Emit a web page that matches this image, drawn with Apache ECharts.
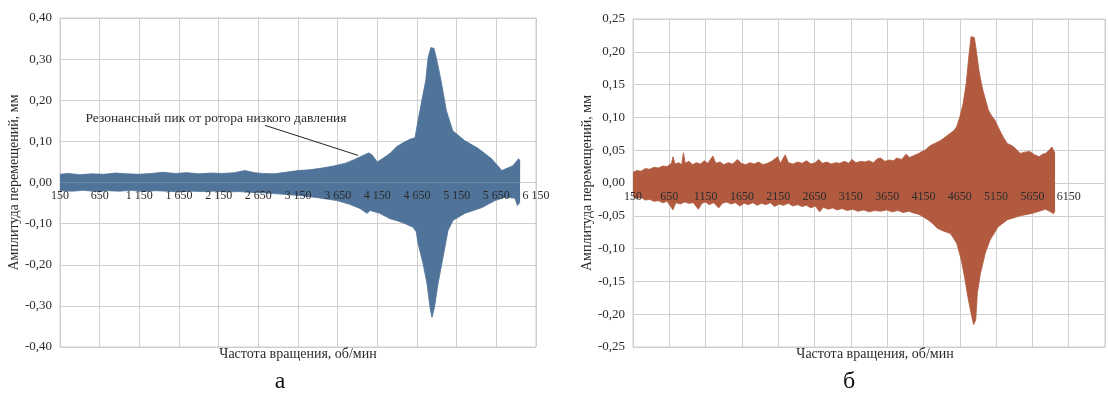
<!DOCTYPE html>
<html><head><meta charset="utf-8">
<script src="https://cdn.jsdelivr.net/npm/echarts@6/dist/echarts.min.js"></script>
<style>html,body{margin:0;padding:0;background:#fff}#c{width:1108px;height:402px}</style>
</head><body><div id="c"></div>
<script>
// ---- data (rpm, amplitude mm) : envelope of the signal ----
const upperA = [[150,0.020],[250,0.022],[400,0.019],[550,0.021],[700,0.020],[850,0.023],[1000,0.021],[1150,0.020],[1300,0.022],[1450,0.025],[1600,0.022],[1750,0.024],[1900,0.021],[2050,0.023],[2200,0.022],[2350,0.024],[2480,0.029],[2600,0.024],[2700,0.022],[2850,0.021],[3000,0.025],[3150,0.029],[3300,0.031],[3450,0.035],[3600,0.040],[3750,0.047],[3850,0.055],[3950,0.064],[4040,0.072],[4080,0.068],[4150,0.050],[4230,0.060],[4310,0.071],[4400,0.088],[4480,0.097],[4560,0.105],[4625,0.109],[4663,0.151],[4710,0.199],[4760,0.248],[4790,0.304],[4825,0.328],[4865,0.326],[4910,0.289],[4960,0.241],[5020,0.175],[5100,0.126],[5250,0.102],[5420,0.083],[5590,0.058],[5720,0.029],[5800,0.036],[5860,0.041],[5930,0.058],[5950,0.052]];
const lowerA = [[150,-0.020],[300,-0.021],[450,-0.019],[600,-0.022],[750,-0.020],[900,-0.021],[1050,-0.019],[1200,-0.022],[1350,-0.020],[1500,-0.021],[1650,-0.023],[1800,-0.021],[1950,-0.022],[2100,-0.021],[2250,-0.023],[2400,-0.022],[2550,-0.024],[2700,-0.025],[2850,-0.027],[3000,-0.029],[3200,-0.032],[3400,-0.037],[3640,-0.044],[3800,-0.053],[3930,-0.063],[4020,-0.075],[4060,-0.068],[4180,-0.075],[4310,-0.088],[4400,-0.093],[4500,-0.100],[4600,-0.109],[4640,-0.120],[4663,-0.148],[4726,-0.197],[4776,-0.246],[4814,-0.304],[4839,-0.328],[4870,-0.304],[4915,-0.246],[4978,-0.182],[5041,-0.117],[5104,-0.092],[5255,-0.075],[5469,-0.061],[5633,-0.044],[5760,-0.036],[5885,-0.038],[5915,-0.056],[5936,-0.051],[5948,-0.045]];
const upperB = [[150,0.016],[200,0.019],[260,0.018],[320,0.022],[380,0.021],[440,0.024],[500,0.023],[560,0.026],[620,0.025],[680,0.030],[700,0.040],[730,0.029],[780,0.031],[820,0.028],[844,0.046],[870,0.030],[920,0.033],[970,0.028],[1020,0.031],[1080,0.029],[1130,0.034],[1180,0.030],[1250,0.041],[1290,0.030],[1350,0.032],[1400,0.028],[1460,0.031],[1520,0.029],[1590,0.036],[1640,0.030],[1700,0.028],[1760,0.031],[1820,0.029],[1880,0.032],[1940,0.028],[2000,0.030],[2060,0.033],[2141,0.040],[2180,0.030],[2246,0.043],[2290,0.031],[2350,0.029],[2420,0.032],[2480,0.030],[2540,0.034],[2600,0.029],[2660,0.031],[2705,0.036],[2760,0.030],[2820,0.032],[2880,0.029],[2940,0.031],[3000,0.030],[3060,0.033],[3124,0.030],[3163,0.036],[3220,0.031],[3290,0.033],[3342,0.032],[3400,0.034],[3460,0.031],[3517,0.037],[3560,0.038],[3620,0.033],[3680,0.035],[3740,0.034],[3779,0.038],[3850,0.036],[3910,0.044],[3960,0.039],[4020,0.042],[4084,0.045],[4130,0.048],[4172,0.050],[4220,0.055],[4259,0.058],[4320,0.061],[4390,0.065],[4450,0.070],[4521,0.076],[4570,0.080],[4608,0.086],[4652,0.101],[4696,0.121],[4739,0.152],[4774,0.192],[4805,0.223],[4849,0.222],[4870,0.208],[4914,0.172],[4950,0.150],[4980,0.137],[5045,0.111],[5090,0.102],[5132,0.096],[5180,0.085],[5220,0.076],[5260,0.068],[5307,0.060],[5350,0.058],[5394,0.055],[5440,0.050],[5482,0.045],[5540,0.047],[5613,0.048],[5680,0.043],[5744,0.040],[5790,0.044],[5831,0.045],[5880,0.050],[5918,0.055],[5940,0.050],[5962,0.045]];
const lowerB = [[150,-0.020],[200,-0.024],[260,-0.022],[320,-0.026],[380,-0.025],[440,-0.028],[500,-0.027],[560,-0.030],[620,-0.028],[700,-0.041],[740,-0.030],[800,-0.032],[860,-0.029],[920,-0.031],[980,-0.030],[1050,-0.040],[1100,-0.031],[1150,-0.029],[1200,-0.033],[1260,-0.030],[1330,-0.038],[1380,-0.031],[1440,-0.029],[1500,-0.032],[1560,-0.030],[1620,-0.035],[1680,-0.031],[1740,-0.033],[1800,-0.030],[1860,-0.034],[1920,-0.031],[1980,-0.033],[2040,-0.030],[2100,-0.036],[2160,-0.032],[2220,-0.034],[2290,-0.031],[2350,-0.035],[2420,-0.033],[2480,-0.036],[2540,-0.034],[2600,-0.038],[2660,-0.035],[2720,-0.044],[2770,-0.037],[2840,-0.040],[2900,-0.038],[2960,-0.041],[3030,-0.039],[3100,-0.042],[3170,-0.040],[3250,-0.043],[3330,-0.041],[3400,-0.044],[3480,-0.042],[3560,-0.043],[3640,-0.041],[3720,-0.044],[3800,-0.042],[3870,-0.045],[3950,-0.043],[4020,-0.046],[4090,-0.048],[4150,-0.052],[4210,-0.056],[4280,-0.062],[4340,-0.069],[4420,-0.073],[4521,-0.077],[4608,-0.092],[4670,-0.117],[4715,-0.143],[4760,-0.173],[4805,-0.198],[4840,-0.216],[4870,-0.209],[4892,-0.168],[4935,-0.138],[5001,-0.107],[5067,-0.087],[5176,-0.067],[5307,-0.056],[5482,-0.050],[5657,-0.046],[5831,-0.040],[5900,-0.044],[5940,-0.047],[5962,-0.042]];

const xLabelsA = ['150','650','1 150','1 650','2 150','2 650','3 150','3 650','4 150','4 650','5 150','5 650','6 150'];
const xLabelsB = ['150','650','1150','1650','2150','2650','3150','3650','4150','4650','5150','5650','6150'];
const yLabelsA = ['-0,40','-0,30','-0,20','-0,10','0,00','0,10','0,20','0,30','0,40'];
const yLabelsB = ['-0,25','-0,20','-0,15','-0,10','-0,05','0,00','0,05','0,10','0,15','0,20','0,25'];
const xTitle = 'Частота вращения, об/мин';
const yTitle = 'Амплитуда перемещений, мм';
const annotation = 'Резонансный пик от ротора низкого давления';
const annotationText = [2116, 0.156];
const annotationArrow = [[2734, 0.139], [3906, 0.066]];
const panelLetters = ['а', 'б'];

// ---- chart ----
const X0 = 150, STEP = 500;
const shift = arr => arr.map(p => [p[0] - X0, p[1]]);
const FONT = '"Liberation Serif", "Times New Roman", serif';
const GRID_C = '#cfcfcf';
const TXT = '#2b2b2b';
const BLUE = '#4f7399', RED = '#b15a3f';

// label axis sits at the bottom of the grid; its labels are lifted up to the zero line
function xAxes(gi, max, labels, lift) {
  return [
    { gridIndex: gi, type: 'value', min: 0, max: max, interval: STEP, position: 'bottom',
      axisLine: { show: false, onZero: false }, axisTick: { show: false }, axisLabel: { show: false },
      splitLine: { show: true, lineStyle: { color: GRID_C, width: 1 } } },
    { gridIndex: gi, type: 'value', min: 0, max: max, interval: STEP, position: 'bottom', z: 10,
      axisLine: { show: false, onZero: false }, axisTick: { show: false }, splitLine: { show: false },
      axisLabel: { show: true, margin: lift, color: TXT, fontFamily: FONT, fontSize: 12,
        showMinLabel: true, showMaxLabel: true,
        formatter: v => labels[Math.round(v / STEP)] || '' } }
  ];
}
function yAxis(gi, min, max, interval, labels, gap) {
  return { gridIndex: gi, type: 'value', min: min, max: max, interval: interval, position: 'left',
    axisLine: { show: false, onZero: false }, axisTick: { show: false },
    splitLine: { show: true, lineStyle: { color: GRID_C, width: 1 } },
    axisLabel: { margin: 8, color: TXT, fontFamily: FONT, fontSize: 13,
      formatter: v => labels[Math.round((v - min) / interval)] },
    name: yTitle, nameLocation: 'middle', nameGap: gap,
    nameTextStyle: { color: TXT, fontFamily: FONT, fontSize: 14 } };
}
function band(xi, yi, data, color, extra) {
  return Object.assign({ type: 'line', xAxisIndex: xi, yAxisIndex: yi, data: data,
    showSymbol: false, symbol: 'none', silent: true, animation: false, sampling: null,
    lineStyle: { color: color, width: 0.8 }, areaStyle: { color: color, opacity: 1 } }, extra || {});
}

const chart = echarts.init(document.getElementById('c'), null, { renderer: 'canvas' });
chart.setOption({
  animation: false,
  backgroundColor: '#fff',
  grid: [
    { left: 60, top: 18, width: 476, height: 329, show: true, borderColor: GRID_C, borderWidth: 1, containLabel: false },
    { left: 633, top: 19, width: 496, height: 328, show: true, borderColor: GRID_C, borderWidth: 1, containLabel: false }
  ],
  xAxis: xAxes(0, 6000, xLabelsA, -157).concat(xAxes(1, 6500, xLabelsB, -156)),
  yAxis: [ yAxis(0, -0.4, 0.4, 0.1, yLabelsA, 35), yAxis(1, -0.25, 0.25, 0.05, yLabelsB, 39) ],
  title: [
    { text: xTitle, left: 298, top: 347, textAlign: 'center', padding: 0,
      textStyle: { color: TXT, fontFamily: FONT, fontSize: 14, fontWeight: 'normal' } },
    { text: xTitle, left: 875, top: 347, textAlign: 'center', padding: 0,
      textStyle: { color: TXT, fontFamily: FONT, fontSize: 14, fontWeight: 'normal' } },
    { text: panelLetters[0], left: 280, top: 370, textAlign: 'center', padding: 0,
      textStyle: { color: '#111', fontFamily: FONT, fontSize: 24, fontWeight: 'normal' } },
    { text: panelLetters[1], left: 849, top: 370, textAlign: 'center', padding: 0,
      textStyle: { color: '#111', fontFamily: FONT, fontSize: 24, fontWeight: 'normal' } }
  ],
  series: [
    band(0, 0, shift(upperA), BLUE),
    band(0, 0, shift(lowerA), BLUE, {
      markLine: { silent: true, animation: false, symbol: ['none', 'arrow'], symbolSize: [0, 7],
        label: { show: false }, lineStyle: { color: '#222', width: 1, type: 'solid' },
        data: [[ { coord: [annotationArrow[0][0] - X0, annotationArrow[0][1]] },
                 { coord: [annotationArrow[1][0] - X0, annotationArrow[1][1]] } ]] },
      markPoint: { silent: true, animation: false, symbol: 'circle', symbolSize: 0,
        data: [{ coord: [annotationText[0] - X0, annotationText[1]] }],
        label: { show: true, position: 'inside', formatter: annotation, color: TXT,
          fontFamily: FONT, fontSize: 13.5 } } }),
    band(2, 1, shift(upperB), RED),
    band(2, 1, shift(lowerB), RED)
  ]
});
</script></body></html>
